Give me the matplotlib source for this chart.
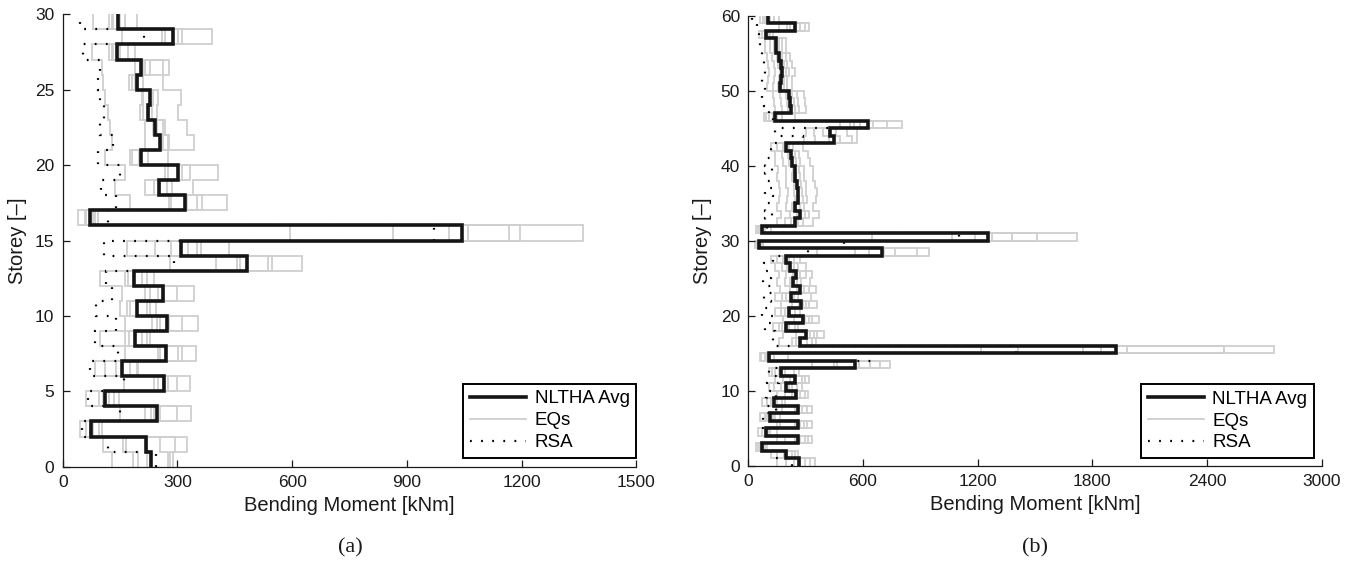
import numpy as np
import matplotlib
matplotlib.use("Agg")
import matplotlib.pyplot as plt
from matplotlib.lines import Line2D

# ---------------- (a) 30-storey building ----------------
nltha_a = [231, 218, 73, 247, 111, 265, 155, 269, 189, 273,
           195, 261, 186, 481, 310, 1043, 70, 320, 253, 302,
           205, 254, 241, 224, 227, 193, 205, 141, 288, 144]

rsa_a = [244, 119, 50, 150, 65, 159, 70, 144, 85, 139,
         86, 130, 113, 292, 109, 970, 119, 139, 99, 150,
         91, 131, 98, 108, 98, 91, 98, 52, 213, 45]

# one row per storey, one column per earthquake record
eqs_a = [
    [128, 185, 198, 220, 276, 281, 288],
    [106, 157, 166, 220, 255, 294, 324],
    [44, 61, 71, 78, 80, 96, 102],
    [150, 215, 230, 240, 255, 300, 335],
    [61, 96, 105, 111, 122, 135, 148],
    [159, 240, 250, 262, 275, 298, 333],
    [85, 110, 140, 155, 175, 195, 198],
    [163, 248, 255, 268, 302, 311, 348],
    [98, 163, 174, 189, 207, 220, 227],
    [163, 233, 246, 255, 278, 311, 355],
    [150, 169, 176, 195, 220, 228, 244],
    [154, 215, 228, 250, 265, 298, 344],
    [98, 163, 172, 185, 207, 220, 239],
    [280, 402, 457, 464, 537, 547, 627],
    [167, 242, 282, 327, 352, 362, 435],
    [595, 865, 1011, 1061, 1168, 1195, 1361],
    [41, 58, 62, 72, 80, 84, 93],
    [176, 279, 283, 324, 350, 364, 429],
    [137, 215, 240, 255, 272, 285, 342],
    [163, 268, 276, 302, 311, 333, 405],
    [111, 176, 181, 200, 204, 224, 276],
    [128, 215, 259, 263, 276, 279, 344],
    [124, 215, 237, 246, 263, 268, 324],
    [119, 202, 211, 225, 233, 246, 302],
    [111, 207, 211, 228, 237, 248, 310],
    [106, 174, 180, 190, 198, 211, 262],
    [102, 190, 209, 215, 228, 263, 279],
    [76, 120, 128, 132, 150, 170, 189],
    [154, 259, 268, 289, 302, 311, 390],
    [80, 120, 128, 132, 150, 163, 195],
]

# ---------------- (b) 60-storey building ----------------
nltha_b = [263, 199, 72, 260, 92, 258, 115, 260, 134, 249,
           199, 242, 173, 560, 110, 1925, 270, 304, 195, 287,
           212, 276, 224, 268, 236, 250, 220, 196, 699, 54,
           1253, 72, 242, 272, 246, 260, 260, 254, 246, 246,
           230, 225, 197, 446, 428, 626, 141, 223, 218, 211,
           168, 170, 178, 170, 160, 145, 145, 93, 245, 105]

rsa_b = [228, 138, 60, 150, 75, 140, 77, 146, 95, 146,
         98, 160, 110, 220, 647, 1400, 130, 140, 85, 130,
         70, 120, 80, 125, 75, 120, 80, 130, 310, 500,
         1100, 100, 90, 125, 90, 130, 90, 125, 85, 125,
         85, 120, 120, 288, 140, 420, 130, 106, 80, 72,
         89, 72, 89, 80, 72, 72, 63, 54, 45, 20]

eqs_b = [
    [150, 200, 240, 272, 298, 324, 350],
    [120, 150, 185, 202, 228, 245, 262],
    [40, 52, 62, 72, 80, 90, 98],
    [150, 194, 245, 272, 298, 315, 333],
    [50, 70, 85, 98, 105, 115, 150],
    [150, 167, 245, 272, 290, 307, 333],
    [60, 85, 100, 115, 130, 141, 167],
    [150, 176, 245, 265, 281, 307, 333],
    [70, 100, 120, 135, 150, 176, 194],
    [150, 190, 230, 246, 272, 298, 315],
    [110, 133, 170, 211, 230, 255, 281],
    [140, 180, 220, 245, 281, 298, 320],
    [106, 124, 140, 159, 190, 237, 263],
    [333, 446, 464, 577, 638, 690, 742],
    [60, 68, 90, 96, 115, 134, 207],
    [1217, 1413, 1749, 1843, 1983, 2487, 2748],
    [159, 228, 250, 272, 307, 333, 354],
    [180, 250, 307, 324, 342, 359, 397],
    [130, 159, 175, 190, 211, 246, 260],
    [180, 240, 281, 298, 320, 333, 368],
    [140, 170, 194, 210, 220, 246, 272],
    [170, 230, 265, 285, 300, 320, 360],
    [140, 175, 200, 225, 240, 260, 330],
    [165, 220, 255, 270, 290, 320, 355],
    [150, 190, 220, 240, 255, 275, 322],
    [160, 200, 235, 250, 270, 300, 335],
    [140, 175, 205, 220, 240, 260, 300],
    [120, 150, 180, 195, 215, 240, 272],
    [359, 560, 629, 708, 769, 882, 943],
    [35, 42, 48, 52, 58, 65, 78],
    [647, 1065, 1187, 1274, 1379, 1509, 1719],
    [40, 50, 60, 68, 78, 90, 118],
    [150, 190, 225, 245, 260, 285, 339],
    [170, 220, 255, 275, 295, 320, 369],
    [150, 195, 230, 250, 270, 290, 337],
    [160, 205, 245, 265, 285, 305, 355],
    [165, 210, 240, 262, 282, 302, 359],
    [160, 200, 238, 255, 275, 300, 350],
    [150, 195, 230, 248, 268, 290, 341],
    [155, 195, 232, 245, 265, 290, 340],
    [140, 180, 215, 230, 250, 270, 325],
    [140, 175, 210, 225, 245, 265, 315],
    [120, 150, 180, 195, 215, 235, 284],
    [289, 350, 420, 446, 481, 542, 568],
    [300, 342, 390, 420, 460, 516, 568],
    [481, 530, 551, 586, 655, 725, 804],
    [80, 95, 110, 130, 150, 176, 246],
    [140, 175, 210, 225, 245, 265, 301],
    [135, 170, 205, 220, 240, 260, 296],
    [130, 165, 195, 212, 230, 255, 290],
    [100, 130, 155, 170, 185, 205, 231],
    [105, 135, 160, 170, 185, 205, 230],
    [110, 140, 165, 178, 195, 215, 243],
    [105, 135, 158, 170, 188, 205, 229],
    [100, 125, 148, 160, 175, 195, 217],
    [90, 115, 135, 145, 160, 175, 195],
    [90, 115, 135, 145, 160, 175, 195],
    [55, 70, 85, 93, 102, 115, 131],
    [160, 202, 220, 250, 268, 296, 319],
    [60, 75, 90, 100, 115, 135, 160],
]

xticks_a = [0, 300, 600, 900, 1200, 1500]
yticks_a = [0, 5, 10, 15, 20, 25, 30]
xticks_b = [0, 600, 1200, 1800, 2400, 3000]
yticks_b = [0, 10, 20, 30, 40, 50, 60]
legend_labels = ["NLTHA Avg", "EQs", "RSA"]

SANS = "Liberation Sans"
SERIF = "Liberation Serif"
AXCOL = "#1a1a1a"
GREY = "#cfcfcf"
DOTS = (0, (0.8, 4.2))

fig = plt.figure(figsize=(13.58, 5.66), dpi=100)
ax_a = fig.add_axes([0.0462, 0.1754, 0.4223, 0.7993])
ax_b = fig.add_axes([0.5510, 0.1772, 0.4224, 0.7951])


def draw_panel(ax, avg, rsa, eqs, xticks, yticks, legend_anchor):
    n = len(avg)
    edges = np.arange(n + 1)
    records = np.array(eqs).T
    for rec in records:
        ax.stairs(rec, edges, orientation="horizontal", baseline=None,
                  color=GREY, lw=1.3, zorder=1)
    ax.stairs(rsa, edges, orientation="horizontal", baseline=None,
              color="black", lw=1.6, linestyle=DOTS, zorder=2)
    ax.stairs(avg, edges, orientation="horizontal", baseline=None,
              color="#151515", lw=2.6, zorder=3)

    ax.set_xlim(xticks[0], xticks[-1])
    ax.set_ylim(yticks[0], yticks[-1])
    ax.set_xticks(xticks)
    ax.set_yticks(yticks)
    for s in ("top", "right"):
        ax.spines[s].set_visible(False)
    for s in ("left", "bottom"):
        ax.spines[s].set_color(AXCOL)
        ax.spines[s].set_linewidth(0.9)
    ax.tick_params(direction="in", length=5, width=0.9, colors=AXCOL,
                   labelsize=12.5, pad=6)
    for lab in ax.get_xticklabels() + ax.get_yticklabels():
        lab.set_fontfamily(SANS)
    ax.set_xlabel("Bending Moment [kNm]", fontsize=14.5, family=SANS,
                  labelpad=4, color=AXCOL)
    ax.set_ylabel("Storey [\u2013]", fontsize=14.5, family=SANS,
                  labelpad=6, color=AXCOL)

    handles = [Line2D([], [], color="#151515", lw=2.6),
               Line2D([], [], color=GREY, lw=1.3),
               Line2D([], [], color="black", lw=1.6, linestyle=DOTS)]
    leg = ax.legend(handles, legend_labels, loc="lower right",
                    bbox_to_anchor=legend_anchor, frameon=True,
                    fancybox=False, framealpha=1, edgecolor="black",
                    prop={"family": SANS, "size": 13.5},
                    handlelength=3.0, handletextpad=0.45,
                    labelspacing=0.25, borderpad=0.35, borderaxespad=0)
    leg.get_frame().set_linewidth(1.4)


draw_panel(ax_a, nltha_a, rsa_a, eqs_a, xticks_a, yticks_a, (1.0, 0.02))
draw_panel(ax_b, nltha_b, rsa_b, eqs_b, xticks_b, yticks_b, (0.986, 0.017))

fig.text(0.258, 0.032, "(a)", family=SERIF, fontsize=16, ha="center",
         va="center", color=AXCOL)
fig.text(0.762, 0.032, "(b)", family=SERIF, fontsize=16, ha="center",
         va="center", color=AXCOL)

fig.savefig("out.png", dpi=100)
